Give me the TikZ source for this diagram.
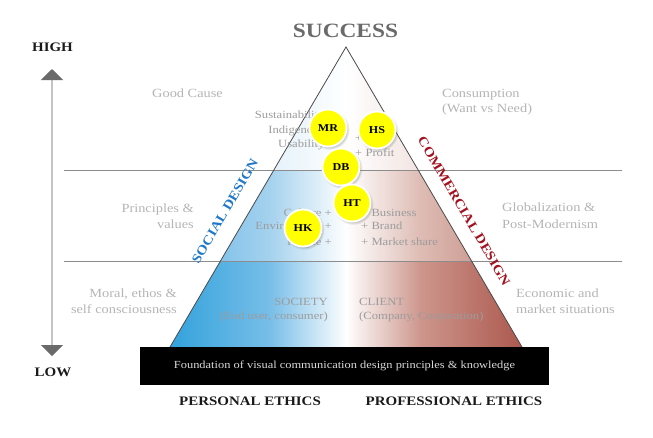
\documentclass[tikz,border=0pt]{standalone}
\usepackage{fontspec}
\setmainfont{Liberation Serif}[FakeStretch=1.15]
\usetikzlibrary{arrows.meta,shadows}
\definecolor{lblgrey}{HTML}{B4B4B4}
\definecolor{ingrey}{HTML}{9C9C9C}
\definecolor{hdgrey}{HTML}{6A6A6A}
\definecolor{edgec}{HTML}{4A4A4A}
\definecolor{rulec}{HTML}{8C8C8C}
\definecolor{axisline}{HTML}{C4C4C4}
\definecolor{axishead}{HTML}{6A6A6A}
\definecolor{socblue}{HTML}{1F78C8}
\definecolor{comred}{HTML}{A3111F}
\definecolor{dotc}{HTML}{FFFF00}
\definecolor{ethc}{HTML}{1A1A1A}
\definecolor{tB1}{RGB}{195,225,245}\definecolor{tB2}{RGB}{228,241,250}
\definecolor{tR2}{RGB}{242,228,225}\definecolor{tR1}{RGB}{226,196,190}
\definecolor{mB1}{RGB}{100,180,230}\definecolor{mB2}{RGB}{165,210,238}
\definecolor{mR2}{RGB}{222,188,180}\definecolor{mR1}{RGB}{190,130,120}
\definecolor{bB1}{RGB}{50,162,220}\definecolor{bB2}{RGB}{120,190,232}
\definecolor{bR2}{RGB}{205,150,140}\definecolor{bR1}{RGB}{172,88,78}
\begin{document}
\begin{tikzpicture}[x=1pt,y=-1pt,
  lbl/.style={text=lblgrey,inner sep=0,font=\fontsize{12.5}{15}\selectfont},
  inn/.style={text=ingrey,inner sep=0,font=\fontsize{11}{13}\selectfont},
  eth/.style={text=ethc,inner sep=0,font=\bfseries\fontsize{13}{15}\selectfont},
  dotnode/.style={circle,fill=dotc,draw=white,line width=1.8pt,minimum size=37pt,inner sep=0,
    font=\bfseries\fontsize{10.5}{11}\selectfont,
    circular drop shadow={shadow xshift=1.2pt,shadow yshift=-1.5pt,opacity=.3,fill=black!60}},
  rulestyle/.style={draw=rulec,line width=0.9pt}]
\useasboundingbox (0,0) rectangle (653,437);
\coordinate (apex) at (346,47);
\coordinate (bl) at (170,347);
\coordinate (br) at (522,347);
% pyramid fill
\begin{scope}
\clip (apex) -- (br) -- (bl) -- cycle;
\shade[left color=tB1,right color=tB2] (169,47) rectangle (270.5,170.3);
\shade[left color=tB2,right color=white] (270,47) rectangle (346.5,170.3);
\shade[left color=white,right color=tR2] (346,47) rectangle (420.5,170.3);
\shade[left color=tR2,right color=tR1] (420,47) rectangle (523,170.3);
\shade[left color=mB1,right color=mB2] (169,170) rectangle (270.5,261.3);
\shade[left color=mB2,right color=white] (270,170) rectangle (346.5,261.3);
\shade[left color=white,right color=mR2] (346,170) rectangle (420.5,261.3);
\shade[left color=mR2,right color=mR1] (420,170) rectangle (523,261.3);
\shade[left color=bB1,right color=bB2] (169,261) rectangle (270.5,348);
\shade[left color=bB2,right color=white] (270,261) rectangle (346.5,348);
\shade[left color=white,right color=bR2] (346,261) rectangle (420.5,348);
\shade[left color=bR2,right color=bR1] (420,261) rectangle (523,348);
\end{scope}
% rules
\coordinate (r1a) at (64,170); \coordinate (r1b) at (622,170);
\coordinate (r2a) at (64,261); \coordinate (r2b) at (622,261);
\draw[rulestyle] (r1a) -- (r1b);
\draw[rulestyle] (r2a) -- (r2b);
\draw[edgec,line width=0.8pt,line join=miter] (bl) -- (apex) -- (br);
% foundation
\node[fill=black,minimum width=409pt,minimum height=38pt,inner sep=0,text=white!85!black,
  font=\fontsize{10.8}{12}\selectfont] (found) at (344.5,366)
  {Foundation of visual communication design principles \& knowledge};
% axis
\coordinate (atop) at (52,69);
\coordinate (abot) at (52,356);
\draw[axisline,line width=1.6pt,
  {Triangle[width=22pt,length=11pt,color=axishead]}-{Triangle[width=22pt,length=11pt,color=axishead]}]
  (atop) -- (abot);
\node[eth,anchor=base] (high) at (52.5,51.5) {HIGH};
\node[eth,anchor=base] (low) at (53,376.5) {LOW};
% title
\node[text=hdgrey,inner sep=0,anchor=base,font=\bfseries\fontsize{20.3}{22}\selectfont] (success) at (345.5,37) {SUCCESS};
% ethics
\node[eth,anchor=base] (pers) at (250,405.5) {PERSONAL ETHICS};
\node[eth,anchor=base] (prof) at (454,405.5) {PROFESSIONAL ETHICS};
% side labels
\node[lbl,anchor=base west] (good) at (152,97) {Good Cause};
\node[lbl,anchor=base west] (cons1) at (442,97) {Consumption};
\node[lbl,anchor=base west] (cons2) at (442,112.5) {(Want vs Need)};
\node[lbl,anchor=base east] (prin1) at (194,212) {Principles \&};
\node[lbl,anchor=base east] (prin2) at (194,228) {values};
\node[lbl,anchor=base east] (mor1) at (177,297) {Moral, ethos \&};
\node[lbl,anchor=base east] (mor2) at (177,313) {self consciousness};
\node[lbl,anchor=base west] (glob1) at (502,211.5) {Globalization \&};
\node[lbl,anchor=base west] (glob2) at (502,228) {Post-Modernism};
\node[lbl,anchor=base west] (eco1) at (516,297) {Economic and};
\node[lbl,anchor=base west] (eco2) at (516,313) {market situations};
% inner texts
\node[inn,anchor=base east] (s1) at (335,118) {Sustainability +};
\node[inn,anchor=base east] (s2) at (335,133) {Indigenous +};
\node[inn,anchor=base east] (s3) at (335,147) {Usability +};
\node[inn,anchor=base west] (p1) at (355,141) {+ Sales};
\node[inn,anchor=base west] (p2) at (355,156) {+ Profit};
\node[inn,anchor=base east] (c1) at (332,216) {Culture +};
\node[inn,anchor=base east] (c2) at (332,229.5) {Environment +};
\node[inn,anchor=base east] (c3) at (332,245) {People +};
\node[inn,anchor=base west] (b1) at (361,216) {+ Business};
\node[inn,anchor=base west] (b2) at (361,229.5) {+ Brand};
\node[inn,anchor=base west] (b3) at (361,245) {+ Market share};
\node[inn,anchor=base east] (soc1) at (328,305) {SOCIETY};
\node[inn,anchor=base east] (soc2) at (328,319) {(End user, consumer)};
\node[inn,anchor=base west] (cli1) at (359,305) {CLIENT};
\node[inn,anchor=base west] (cli2) at (359,319) {(Company, Corporation)};
% diagonal titles
\node[text=socblue,inner sep=0,rotate=59.6,font=\bfseries\fontsize{13}{15}\selectfont] (social) at (225,211) {SOCIAL DESIGN};
\node[text=comred,inner sep=0,rotate=-59.6,font=\bfseries\fontsize{13}{15}\selectfont] (commercial) at (464,211) {COMMERCIAL DESIGN};
% dots
\node[dotnode] (MR) at (328,128) {MR};
\node[dotnode] (HS) at (377,130) {HS};
\node[dotnode] (DB) at (341,167) {DB};
\node[dotnode] (HT) at (352,203) {HT};
\node[dotnode] (HK) at (303,228) {HK};
\end{tikzpicture}
\end{document}
